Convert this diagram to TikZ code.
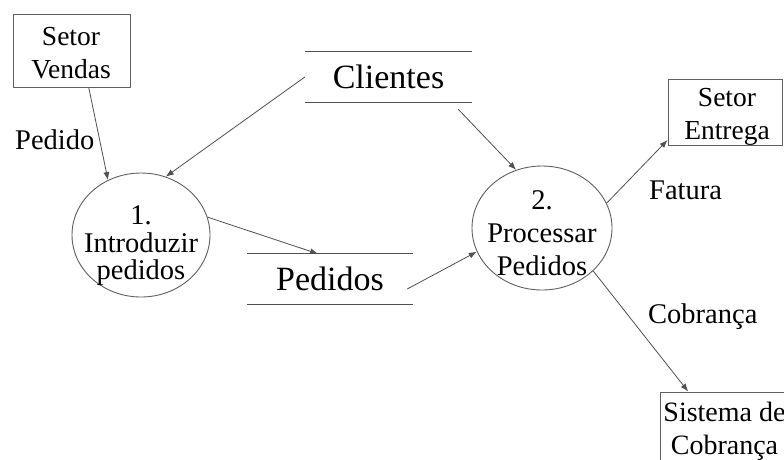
\documentclass[tikz,border=0pt]{standalone}
\usepackage{fontspec}
\setmainfont{Liberation Serif}
\usetikzlibrary{shapes.geometric,arrows.meta}
\definecolor{ln}{HTML}{505050}
\definecolor{bx}{HTML}{606060}
\begin{document}
\begin{tikzpicture}[x=1pt,y=-1pt,
  entbox/.style={draw=bx,line width=0.9pt,rectangle,inner sep=0pt},
  proc/.style={draw=bx,line width=0.9pt,ellipse,inner sep=0pt,minimum width=138pt,minimum height=124pt},
  txt/.style={align=center,inner sep=0pt,font=\fontsize{27.5}{33}\selectfont},
  ptxt/.style={align=center,inner sep=0pt,font=\fontsize{28.5}{33}\selectfont},
  lbl/.style={inner sep=0pt,anchor=base west,font=\fontsize{28.5}{33}\selectfont},
  store/.style={inner sep=0pt,minimum height=50pt,font=\fontsize{34}{40}\selectfont},
  storeline/.style={draw=ln,line width=0.9pt},
  flow/.style={draw=ln,line width=0.8pt,-{Latex[length=8pt,width=6pt]}}]
\useasboundingbox (0,0) rectangle (784,459);
\clip (0,0) rectangle (784,459);
\fill[white] (0,0) rectangle (784,459);

% external entities
\node[entbox,minimum width=117pt,minimum height=73pt] (sv) at (71.5,50.5) {};
\node[txt] (svt) at (71,53) {Setor\\Vendas};
\node[entbox,minimum width=114pt,minimum height=66pt] (se) at (725,112) {};
\node[txt] (set) at (727,117) {Setor\\Entrega};
\node[entbox,minimum width=130pt,minimum height=78pt] (sc) at (725,431) {};
\node[txt,font=\fontsize{28}{33}\selectfont] (sct) at (724.5,431) {Sistema de\\Cobrança};

% processes
\node[proc] (c1) at (141,235) {};
\node[ptxt,font=\fontsize{28.5}{27.5}\selectfont] (c1t) at (141,246) {1.\\Introduzir\\pedidos};
\node[proc,minimum width=140pt] (c2) at (542,228) {};
\node[ptxt] (c2t) at (542,233.5) {2.\\Processar\\Pedidos};

% data stores
\node[store,minimum width=167pt] (cli) at (388.5,77) {Clientes};
\draw[storeline] (cli.north west) -- (cli.north east);
\draw[storeline] (cli.south west) -- (cli.south east);
\node[store,minimum width=166pt] (ped) at (330,279) {Pedidos};
\draw[storeline] (ped.north west) -- (ped.north east);
\draw[storeline] (ped.south west) -- (ped.south east);

% flows
\draw[flow] (sv.-65.7) -- (c1.121);
\draw[flow] (cli.west) -- (c1.67);
\draw[flow] (c1.15) -- ([xshift=-12pt]ped.north);
\draw[flow] ([xshift=-14pt,yshift=-7pt]cli.south east) -- (c2.114);
\draw[flow] ([xshift=-6pt,yshift=-10pt]ped.east) -- (c2.200);
\draw[flow] (c2.21.6) -- (se.206);
\draw[flow] (c2.-40.6) -- (sc.133);

% flow labels
\node[lbl] (lp) at (15,149) {Pedido};
\node[lbl] (lf) at (649,199) {Fatura};
\node[lbl] (lc) at (648,323) {Cobrança};
\end{tikzpicture}
\end{document}
